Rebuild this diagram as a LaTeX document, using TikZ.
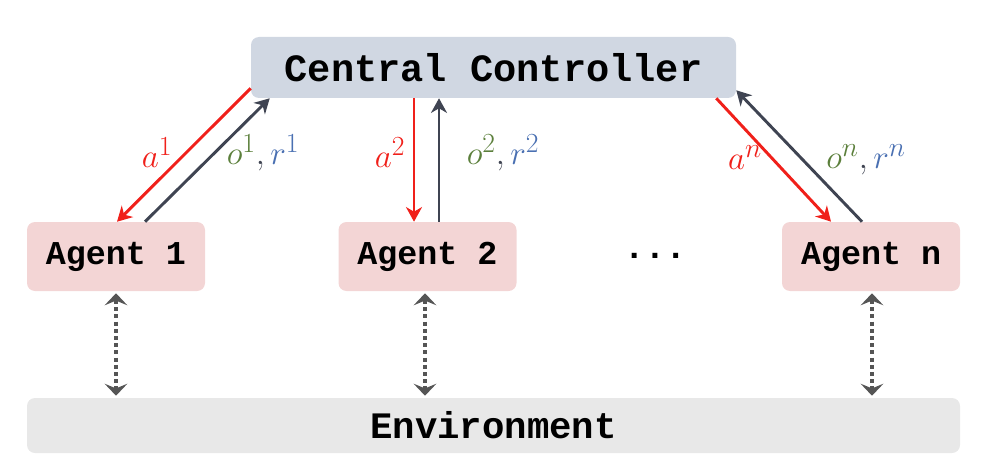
\documentclass[tikz,border=0pt]{standalone}
\usepackage{fontspec}
\setmonofont{Liberation Mono}
\usetikzlibrary{arrows.meta,calc}
\definecolor{ccfill}{HTML}{D0D7E2}
\definecolor{agfill}{HTML}{F3D5D5}
\definecolor{envfill}{HTML}{E8E8E8}
\definecolor{actred}{HTML}{F0201A}
\definecolor{obsdark}{HTML}{3F4452}
\definecolor{ogreen}{HTML}{5B7F3B}
\definecolor{rblue}{HTML}{4A70B2}
\definecolor{dotgray}{HTML}{555555}
\tikzset{
  box/.style={rounded corners=6pt, inner sep=0pt, font=\ttfamily\bfseries},
  ccbox/.style={box, fill=ccfill, minimum width=363.75pt, minimum height=45.75pt, font=\ttfamily\bfseries\fontsize{29}{32}\selectfont},
  agbox/.style={box, fill=agfill, minimum width=133.5pt, minimum height=51.75pt, font=\ttfamily\bfseries\fontsize{25}{28}\selectfont},
  envbox/.style={box, fill=envfill, minimum width=699.75pt, minimum height=41.25pt, font=\ttfamily\bfseries\fontsize{28}{31}\selectfont},
  act/.style={actred, line width=2.2pt, -{Stealth[length=11pt,width=12pt,inset=3.5pt]}},
  obs/.style={obsdark, line width=2.2pt, -{Stealth[length=11pt,width=12pt,inset=3.5pt]}},
  envlink/.style={dotgray, line width=3pt, dash pattern=on 3pt off 2.4pt, {Stealth[length=9pt,width=17pt,inset=3.5pt]}-{Stealth[length=9pt,width=17pt,inset=3.5pt]}},
  lbl/.style={font=\fontsize{24.88}{28}\selectfont, inner sep=0pt}
}
\begin{document}
\begin{tikzpicture}[x=0.75pt,y=-0.75pt]
\useasboundingbox (0,0) rectangle (987,474);
\node[ccbox] (cc) at (493.5,67.5) {Central Controller};
\node[agbox] (ag1) at (116,256.5) {Agent 1};
\node[agbox] (ag2) at (427.5,256.5) {Agent 2};
\node[agbox] (agn) at (871,256.5) {Agent n};
\node[font=\ttfamily\bfseries\fontsize{26}{31}\selectfont, inner sep=0pt] (dots) at (655,256) {...};
\node[envbox] (env) at (493.5,425.5) {Environment};
% agent 1
\draw[act] ($(cc.south west)+(0,-10)$) -- ($(ag1.north)+(1,0)$);
\draw[obs] ($(ag1.north)+(29,0)$) -- ($(cc.south west)+(19,0)$);
\node[lbl, text=actred] (la1) at (157,153) {$a^1$};
\node[lbl] (lo1) at (263,153) {$\color{ogreen}o^1\color{obsdark},\color{rblue}r^1$};
% agent 2
\draw[act] ($(cc.south)+(-79.5,0)$) -- ($(ag2.north)+(-13.5,0)$);
\draw[obs] ($(ag2.north)+(11.5,0)$) -- ($(cc.south)+(-54.5,0)$);
\node[lbl, text=actred] (la2) at (390,153) {$a^2$};
\node[lbl] (lo2) at (503,153) {$\color{ogreen}o^2\color{obsdark},\color{rblue}r^2$};
% agent n
\draw[act] ($(cc.south east)+(-20,0)$) -- ($(agn.north)+(-40,0)$);
\draw[obs] ($(agn.north)+(-9,0)$) -- ($(cc.south east)+(0,-8)$);
\node[lbl, text=actred] (lan) at (745,158) {$a^n$};
\node[lbl] (lon) at (866,160) {$\color{ogreen}o^n\color{obsdark},\color{rblue}r^n$};
% environment links
\draw[envlink] ($(ag1.south)+(0,2)$) -- ($(ag1.south |- env.north)+(0,-2)$);
\draw[envlink] ($(ag2.south)+(-2.5,2)$) -- ($(ag2.south |- env.north)+(-2.5,-2)$);
\draw[envlink] ($(agn.south)+(1,2)$) -- ($(agn.south |- env.north)+(1,-2)$);
\end{tikzpicture}
\end{document}
